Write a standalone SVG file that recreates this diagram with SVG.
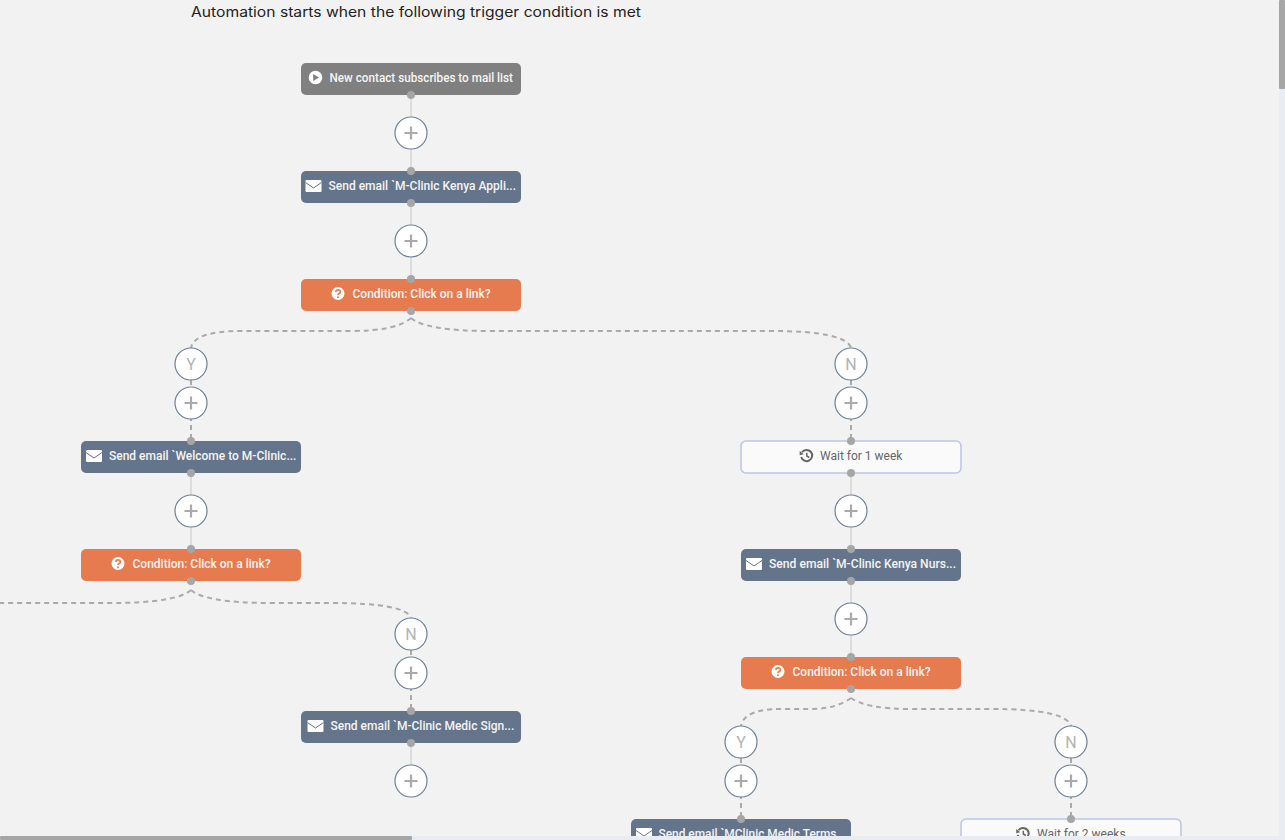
<svg xmlns="http://www.w3.org/2000/svg" width="1285" height="840" viewBox="0 0 1285 840">
<style>
text{font-family:Roboto,"Liberation Sans",sans-serif}
.title{font-family:Inter,"Open Sans",sans-serif;font-size:14px;fill:#222}
.lbl{font-size:12px;font-weight:500;fill:#f5f5f5}
.wl{font-size:12px;fill:#666}
.yn{font-size:16px;fill:#b3b3b3;text-anchor:middle}
.sol{fill:none;stroke:#ddd;stroke-width:2}
.das{fill:none;stroke:#aaa;stroke-width:2;stroke-dasharray:5 4}
.dot{fill:#a6a6a6}
.c{fill:#fff;stroke:#6d7f97;stroke-width:1.200}
.pl{fill:none;stroke:#aaa;stroke-width:2.200}
.trig{fill:#808080}.mail{fill:#64748b}.cond{fill:#e57b4f}
.wait{fill:#fafafa;stroke:#bcc6e6;stroke-width:1.600}
</style>
<defs>
<g id="plus"><circle class="c" r="16"/><path class="pl" d="M-6.500 0H6.500M0-6.500V6.500"/></g>
<circle id="ynb" class="c" r="16"/>
<g id="env"><rect x="-8" y="-6" width="16" height="12" rx="1" fill="#fff"/><path d="M-8-3.500L0 2L8-3.500" fill="none" stroke="#64748b" stroke-width="1"/></g>
<g id="q"><circle r="6.500" fill="#fff"/><path d="M-2.200-1.600C-2.200-4.400 2.400-4.400 2.400-1.600C2.400 0 0 0 0 1.600" fill="none" stroke="#e57b4f" stroke-width="1.700"/><circle cy="3.700" r="1" fill="#e57b4f"/></g>
<g id="hist"><path d="M-4.500-3.200A5.600 5.600 0 1 1-5.300 1.500" fill="none" stroke="#666" stroke-width="2"/><path d="M-6.800-4.500L-2.800-1.300L-6.800-.3Z" fill="#666"/><path d="M.3-2.800V.5L2.800 2" fill="none" stroke="#666" stroke-width="1.500"/></g>
</defs>
<rect width="1285" height="840" fill="#f2f2f2"/>
<g id="connectors">
<path class="sol" d="M411 95V171M411 203V279M191 473V549M851 473V549M851 581V657M411 743V765"/>
<path class="das" d="M411 318Q396 331 351 331H241Q194 331 191 348"/>
<path class="das" d="M411 318Q426 331 491 331H771Q846 331 851 348"/>
<path class="das" d="M191 590Q176 603 111 603H0"/>
<path class="das" d="M191 590Q206 603 271 603H331Q406 603 411 618"/>
<path class="das" d="M851 698Q836 709 811 709H781Q744 709 741 726"/>
<path class="das" d="M851 698Q866 709 911 709H991Q1066 709 1071 726"/>
<path class="das" d="M191 380V441M851 380V441M411 650V711M741 758V819M1071 758V819"/>
</g>
<text id="title" class="title" x="191" y="17" textLength="450" lengthAdjust="spacingAndGlyphs">Automation starts when the following trigger condition is met</text>
<g id="n1"><rect class="trig" x="301" y="63" width="220" height="32" rx="5"/><circle cx="315.500" cy="77.500" r="6.800" fill="#fff"/><path d="M313.200 74L319 77.500L313.200 81Z" fill="#808080"/><text class="lbl" x="329.500" y="82" textLength="183.500" lengthAdjust="spacingAndGlyphs">New contact subscribes to mail list</text></g>
<g id="n2"><rect class="mail" x="301" y="171" width="220" height="32" rx="5"/><use href="#env" x="313.500" y="186"/><text class="lbl" x="328.500" y="190" textLength="187.500" lengthAdjust="spacingAndGlyphs">Send email `M-Clinic Kenya Appli...</text></g>
<g id="n3"><rect class="cond" x="301" y="279" width="220" height="32" rx="5"/><use href="#q" x="338" y="293.500"/><text class="lbl" x="352.500" y="298">Condition: Click on a link?</text></g>
<g id="n4"><rect class="mail" x="81" y="441" width="220" height="32" rx="5"/><use href="#env" x="94" y="456"/><text class="lbl" x="109" y="460">Send email `Welcome to M-Clinic...</text></g>
<g id="n5"><rect class="cond" x="81" y="549" width="220" height="32" rx="5"/><use href="#q" x="118" y="563.500"/><text class="lbl" x="132.500" y="568">Condition: Click on a link?</text></g>
<g id="n6"><rect class="mail" x="301" y="711" width="220" height="32" rx="5"/><use href="#env" x="315.500" y="726"/><text class="lbl" x="330.500" y="730">Send email `M-Clinic Medic Sign...</text></g>
<g id="n7"><rect class="wait" x="741" y="441" width="220" height="32" rx="5"/><use href="#hist" x="806.500" y="455.500"/><text class="wl" x="820" y="460">Wait for 1 week</text></g>
<g id="n8"><rect class="mail" x="741" y="549" width="220" height="32" rx="5"/><use href="#env" x="754" y="564"/><text class="lbl" x="769" y="568" textLength="187" lengthAdjust="spacingAndGlyphs">Send email `M-Clinic Kenya Nurs...</text></g>
<g id="n9"><rect class="cond" x="741" y="657" width="220" height="32" rx="5"/><use href="#q" x="778" y="671.500"/><text class="lbl" x="792.500" y="676">Condition: Click on a link?</text></g>
<g id="n10"><rect class="mail" x="631" y="819" width="220" height="32" rx="5"/><use href="#env" x="644" y="834"/><text class="lbl" x="658.500" y="838" textLength="178" lengthAdjust="spacingAndGlyphs">Send email `MClinic Medic Terms</text></g>
<g id="n11"><rect class="wait" x="961" y="819" width="220" height="32" rx="5"/><use href="#hist" x="1023" y="833.500"/><text class="wl" x="1037" y="838">Wait for 2 weeks</text></g>
<g id="add1"><use href="#plus" x="411" y="133"/></g>
<g id="add2"><use href="#plus" x="411" y="241"/></g>
<g id="add3"><use href="#plus" x="191" y="403"/></g>
<g id="add4"><use href="#plus" x="191" y="511"/></g>
<g id="add5"><use href="#plus" x="411" y="673"/></g>
<g id="add6"><use href="#plus" x="411" y="781"/></g>
<g id="add7"><use href="#plus" x="851" y="403"/></g>
<g id="add8"><use href="#plus" x="851" y="511"/></g>
<g id="add9"><use href="#plus" x="851" y="619"/></g>
<g id="add10"><use href="#plus" x="741" y="781"/></g>
<g id="add11"><use href="#plus" x="1071" y="781"/></g>
<g id="y1"><use href="#ynb" x="191" y="364"/><text class="yn" x="191" y="370">Y</text></g>
<g id="no1"><use href="#ynb" x="851" y="364"/><text class="yn" x="851" y="370">N</text></g>
<g id="no2"><use href="#ynb" x="411" y="634"/><text class="yn" x="411" y="640">N</text></g>
<g id="y2"><use href="#ynb" x="741" y="742"/><text class="yn" x="741" y="748">Y</text></g>
<g id="no3"><use href="#ynb" x="1071" y="742"/><text class="yn" x="1071" y="748">N</text></g>
<g id="dots" class="dot">
<circle cx="411" cy="95" r="4"/><circle cx="411" cy="171" r="4"/><circle cx="411" cy="203" r="4"/><circle cx="411" cy="279" r="4"/><circle cx="411" cy="311" r="4"/>
<circle cx="191" cy="441" r="4"/><circle cx="191" cy="473" r="4"/><circle cx="191" cy="549" r="4"/><circle cx="191" cy="581" r="4"/>
<circle cx="411" cy="711" r="4"/><circle cx="411" cy="743" r="4"/>
<circle cx="851" cy="441" r="4"/><circle cx="851" cy="473" r="4"/><circle cx="851" cy="549" r="4"/><circle cx="851" cy="581" r="4"/><circle cx="851" cy="657" r="4"/><circle cx="851" cy="689" r="4"/>
<circle cx="741" cy="819" r="4"/><circle cx="1071" cy="819" r="4"/>
</g>
<g id="scrollbars">
<rect x="0" y="836" width="1285" height="4" fill="#e9edf2"/>
<rect x="0" y="836" width="412" height="4" rx="1" fill="#a6a6a6"/>
<rect x="1279" y="0" width="6" height="840" fill="#e9edf2"/>
<rect x="1279" y="0" width="6" height="89" rx="1" fill="#a6a6a6"/>
</g>
</svg>
